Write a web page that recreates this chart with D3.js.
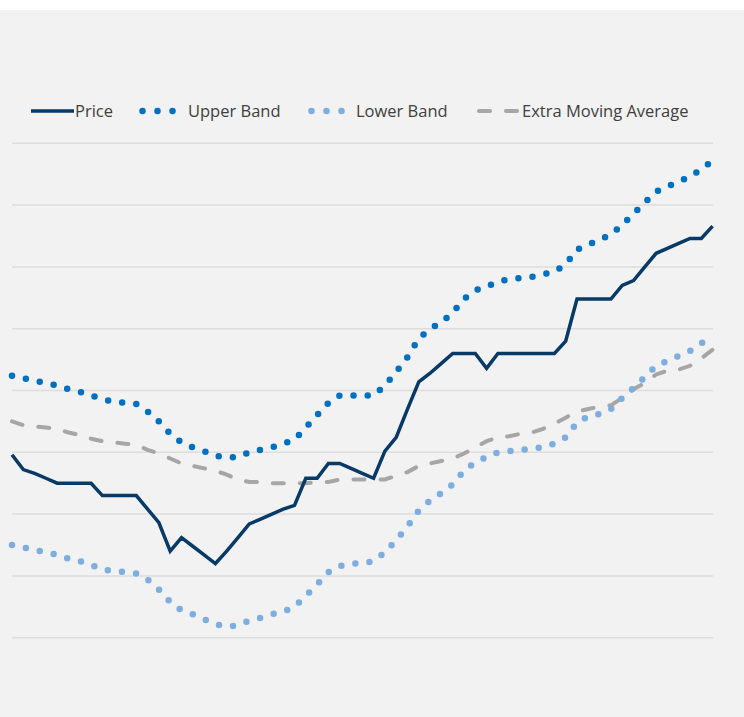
<!DOCTYPE html>
<html>
<head>
<meta charset="utf-8">
<script src="https://cdn.jsdelivr.net/npm/d3@7.9.0/dist/d3.min.js"></script>
<style>
  html, body { margin: 0; padding: 0; background: #fff; }
  svg { display: block; font-family: "Open Sans", sans-serif; }
</style>
</head>
<body>
<svg id="chart" width="744" height="717"></svg>
<script>
// values (no axis labels shown, so the scale is arbitrary)
const price = [114.8, 113.6, 113.3, 112.9, 112.5, 112.5, 112.5, 112.5, 111.5, 111.5,
  111.5, 111.5, 110.4, 109.3, 107.0, 108.1, 107.4, 106.7, 106.0, 107.0,
  108.1, 109.2, 109.6, 110.0, 110.4, 110.7, 112.9, 112.9, 114.1, 114.1,
  113.7, 113.3, 112.9, 115.1, 116.2, 118.5, 120.7, 121.4, 122.2, 123.0,
  123.0, 123.0, 121.8, 123.0, 123.0, 123.0, 123.0, 123.0, 123.0, 124.0,
  127.4, 127.4, 127.4, 127.4, 128.5, 128.9, 130.0, 131.1, 131.5, 131.9,
  132.3, 132.3, 133.3];

const upperBand = [121.2, 121.0, 120.8, 120.6, 120.4, 120.1, 119.9, 119.6, 119.3, 119.1,
  119.0, 118.9, 118.3, 117.5, 116.5, 115.8, 115.4, 115.1, 114.7, 114.6,
  114.6, 115.0, 115.2, 115.4, 115.7, 116.0, 117.0, 118.0, 119.0, 119.6,
  119.6, 119.6, 119.6, 120.4, 121.5, 122.7, 124.2, 125.0, 125.5, 126.3,
  127.4, 128.1, 128.4, 128.8, 129.0, 129.1, 129.2, 129.4, 129.6, 130.2,
  131.4, 131.8, 132.2, 132.6, 133.4, 134.3, 135.2, 136.1, 136.5, 136.9,
  137.3, 137.9, 138.6];

const lowerBand = [107.5, 107.3, 107.1, 106.9, 106.7, 106.4, 106.2, 105.9, 105.5, 105.4,
  105.3, 105.2, 104.7, 103.9, 102.9, 102.2, 101.9, 101.5, 101.1, 100.9,
  101.0, 101.4, 101.6, 101.9, 102.1, 102.5, 103.4, 104.3, 105.3, 105.8,
  106.0, 106.0, 106.2, 106.9, 107.9, 109.0, 110.3, 111.1, 111.7, 112.4,
  113.5, 114.2, 114.6, 115.0, 115.1, 115.2, 115.3, 115.4, 115.7, 116.2,
  117.4, 117.9, 118.1, 118.5, 119.4, 120.2, 121.1, 122.0, 122.4, 122.8,
  123.2, 123.8, 124.5];

const movingAvg = [117.5, 117.2, 117.1, 117.0, 116.9, 116.6, 116.4, 116.1, 115.9, 115.8,
  115.7, 115.6, 115.2, 114.9, 114.5, 114.1, 113.9, 113.7, 113.5, 113.2,
  112.8, 112.6, 112.6, 112.5, 112.5, 112.5, 112.5, 112.6, 112.6, 112.8,
  112.8, 112.8, 112.8, 112.8, 113.1, 113.4, 113.9, 114.1, 114.3, 114.5,
  114.9, 115.4, 115.9, 116.2, 116.3, 116.5, 116.6, 116.9, 117.3, 117.8,
  118.3, 118.5, 118.7, 118.8, 119.4, 120.1, 120.6, 121.3, 121.6, 121.7,
  122.0, 122.6, 123.3];

const yTicks = [100, 105, 110, 115, 120, 125, 130, 135, 140];

const series = [
  { name: 'Price', values: price, color: '#073a66', width: 3.5, dash: null, cap: 'butt' },
  { name: 'Upper Band', values: upperBand, color: '#0070c0', width: 6.5, dash: '0,14.2', cap: 'round' },
  { name: 'Lower Band', values: lowerBand, color: '#7eaddf', width: 6.5, dash: '0,14.2', cap: 'round' },
  { name: 'Extra Moving Average', values: movingAvg, color: '#a6a6a6', width: 4, dash: '11,16', cap: 'round' }
];

const svg = d3.select('#chart');

svg.append('rect')
  .attr('x', 0).attr('y', 10)
  .attr('width', 744).attr('height', 707)
  .attr('fill', '#f2f2f2');

const x = d3.scaleLinear().domain([0, price.length - 1]).range([12, 712.6]);
const y = d3.scaleLinear().domain([100, 140]).range([637.7, 143.3]);

// gridlines
svg.append('g')
  .selectAll('line')
  .data(yTicks)
  .join('line')
  .attr('x1', 12).attr('x2', 713)
  .attr('y1', (d) => y(d)).attr('y2', (d) => y(d))
  .attr('stroke', '#dddddd')
  .attr('stroke-width', 1.5);

const line = d3.line()
  .x((d, i) => x(i))
  .y((d) => y(d));

// draw back to front: moving average, bands, then price on top
[series[3], series[2], series[1], series[0]].forEach((s) => {
  svg.append('path')
    .attr('d', line(s.values))
    .attr('fill', 'none')
    .attr('stroke', s.color)
    .attr('stroke-width', s.width)
    .attr('stroke-linecap', s.cap)
    .attr('stroke-linejoin', 'miter')
    .attr('stroke-dasharray', s.dash);
});

// Legend
const legendY = 111;
const legendItems = [
  { s: series[0], x1: 31, x2: 74, tx: 75, dash: null },
  { s: series[1], x1: 142.5, x2: 173, tx: 188, dash: '0,15' },
  { s: series[2], x1: 311.5, x2: 342, tx: 356, dash: '0,15' },
  { s: series[3], x1: 479, x2: 520, tx: 522, dash: '11,16' }
];

const legend = svg.append('g');
legendItems.forEach((d) => {
  legend.append('line')
    .attr('x1', d.x1).attr('x2', d.x2)
    .attr('y1', legendY).attr('y2', legendY)
    .attr('stroke', d.s.color)
    .attr('stroke-width', d.s.width)
    .attr('stroke-linecap', d.s.cap)
    .attr('stroke-dasharray', d.dash);
  legend.append('text')
    .attr('x', d.tx)
    .attr('y', legendY)
    .attr('dy', '0.35em')
    .attr('fill', '#404040')
    .attr('font-size', 16.5)
    .text(d.s.name);
});
</script>
</body>
</html>
